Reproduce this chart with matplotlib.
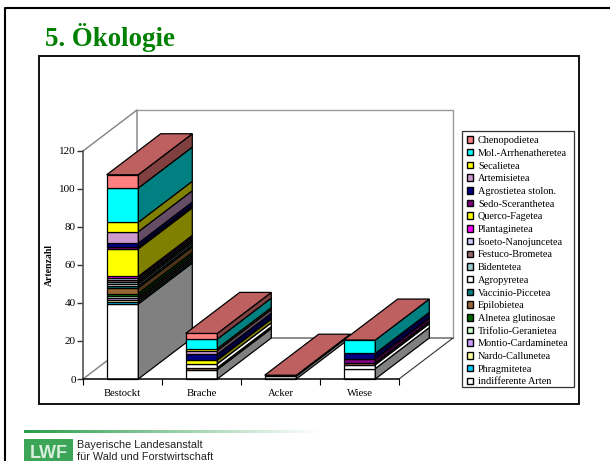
import numpy as np
import matplotlib
matplotlib.use("Agg")
import matplotlib.pyplot as plt
from matplotlib.patches import Patch, Rectangle

plt.rcParams['font.family'] = ['Liberation Serif', 'DejaVu Serif']

categories = ["Bestockt", "Brache", "Acker", "Wiese"]

# bottom to top, same order as the stack
series_names = ["indifferente Arten", "Phragmitetea", "Nardo-Callunetea", "Montio-Cardaminetea",
                "Trifolio-Geranietea", "Alnetea glutinosae", "Epilobietea", "Vaccinio-Piccetea",
                "Agropyretea", "Bidentetea", "Festuco-Brometea", "Isoeto-Nanojuncetea",
                "Plantaginetea", "Querco-Fagetea", "Sedo-Sceranthetea", "Agrostietea stolon.",
                "Artemisietea", "Secalietea", "Mol.-Arrhenatheretea", "Chenopodietea"]
bestockt = [39.5, 1, 1, 1, 1, 1.5, 3, 1, 1, 1, 1, 1, 1, 14.5, 1, 2, 6, 5, 18, 7]
brache = [5, 0, 0, 0, 0, 0, 1, 0, 2, 0, 0, 0, 0, 2, 0, 3, 2, 1, 5, 3]
acker = [1.5, 0, 0, 0, 0, 0, 0, 0, 0, 0, 0, 0, 0, 0, 0, 0.5, 0, 0, 0, 0]
wiese = [5.5, 0, 0, 0, 0, 0, 0, 0, 2, 0, 1, 0, 0, 0, 2, 3, 0, 0, 7, 0]
colors = ["#FFFFFF", "#00CCFF", "#FFFF99", "#CC99FF", "#CCFFCC", "#006600", "#996633", "#008080",
          "#FFFFFF", "#99CCCC", "#996666", "#CCCCFF", "#FF00FF", "#FFFF00", "#800080", "#000080",
          "#CC99CC", "#FFFF00", "#00FFFF", "#FF8080"]
yticks = [0, 20, 40, 60, 80, 100, 120]

W, H = 610, 461
fig = plt.figure(figsize=(W / 100, H / 100), dpi=100)

# page furniture in pixel coordinates
bg = fig.add_axes([0, 0, 1, 1])
bg.set_xlim(0, W)
bg.set_ylim(H, 0)
bg.axis("off")
bg.plot([4.5, 4.5, W], [H, 8.5, 8.5], color="black", lw=1.5)
bg.add_patch(Rectangle((39, 56.5), 540, 347, fc="white", ec="#111111", lw=1.4))
bg.add_patch(Rectangle((462, 131), 112, 256, fc="white", ec="#333333", lw=0.9, zorder=5))
bg.text(45, 46, "5. Ökologie", color="#008000", fontsize=19.4, fontweight="bold")
grad = np.linspace(0, 1, 256).reshape(1, -1)
start = np.array([0.16, 0.62, 0.29])
img = start + (1 - start) * grad[..., None]
bg.imshow(img, extent=(24, 320, 433, 430), aspect="auto")
bg.set_xlim(0, W)
bg.set_ylim(H, 0)
bg.add_patch(Rectangle((24, 439), 49, 22, fc="#3DA558", ec="none"))
bg.text(48.5, 457.5, "LWF", color="#D8EEDC", fontsize=13, fontweight="bold", ha="center",
        family="Liberation Sans")
bg.text(77, 448, "Bayerische Landesanstalt", fontsize=7.85, family="Liberation Sans", color="#222222")
bg.text(77, 460, "für Wald und Forstwirtschaft", fontsize=7.85, family="Liberation Sans", color="#222222")

ax = fig.add_axes([83 / W, (H - 379) / H, 316 / W, 228 / H])
ax.patch.set_alpha(0)
ax.set_xlim(0, 4)
ax.set_ylim(0, 120)

depth_x = 54 / 79
depth_y = 41 / 1.9
bar_w = 0.4

# walls and floor
ax.plot([0, depth_x, depth_x], [120, 120 + depth_y, depth_y], color="#808080", lw=1, clip_on=False, zorder=0)
ax.plot([0, depth_x], [0, depth_y], color="#808080", lw=1, clip_on=False, zorder=0)
ax.plot([depth_x, 4 + depth_x, 4 + depth_x], [120 + depth_y, 120 + depth_y, depth_y],
        color="#999999", lw=1, clip_on=False, zorder=0)
ax.plot([depth_x, 4 + depth_x, 4], [depth_y, depth_y, 0], color="#333333", lw=0.8, clip_on=False, zorder=0)

for i, vals in enumerate([bestockt, brache, acker, wiese]):
    xl = i + 0.5 - bar_w / 2
    xr = xl + bar_w
    bottom = 0
    for v, c, name in zip(vals, colors, series_names):
        if v == 0:
            continue
        ax.bar(i + 0.5, v, bar_w, bottom=bottom, color=c, edgecolor="black", lw=0.9, clip_on=False)
        if name == "Agropyretea":
            side = "#FFFFFF"
        else:
            side = tuple(0.5 * np.array(matplotlib.colors.to_rgb(c)))
        ax.fill([xr, xr + depth_x, xr + depth_x, xr],
                [bottom, bottom + depth_y, bottom + v + depth_y, bottom + v],
                fc=side, ec="black", lw=0.9, clip_on=False)
        bottom += v
    ax.fill([xl, xr, xr + depth_x, xl + depth_x],
            [bottom, bottom, bottom + depth_y, bottom + depth_y],
            fc="#BF6060", ec="black", lw=0.9, clip_on=False)

for s in ["top", "right"]:
    ax.spines[s].set_visible(False)
ax.spines["left"].set_color("#555555")
ax.spines["left"].set_linewidth(1.2)
ax.spines["bottom"].set_linewidth(1.1)

ax.set_yticks(yticks)
ax.tick_params(axis="y", length=4, width=1, labelsize=8, pad=1, color="#333333")
ax.set_xticks(range(5))
ax.set_xticks(np.arange(4) + 0.5, categories, minor=True)
ax.tick_params(axis="x", which="major", length=4, width=0.8, labelbottom=False)
ax.tick_params(axis="x", which="minor", length=0, labelsize=7.7, pad=7)
ax.set_ylabel("Artenzahl", fontsize=7, fontweight="bold", labelpad=4)

handles = [Patch(fc=c, ec="black", lw=1, label=n) for c, n in zip(colors, series_names)][::-1]
leg = ax.legend(handles=handles, loc="upper left", bbox_to_anchor=(462 / W, 1 - 131 / H),
                bbox_transform=fig.transFigure, fontsize=7.4, handlelength=0.6, handleheight=0.6,
                handletextpad=0.45, labelspacing=0.36, borderpad=0.5, borderaxespad=0,
                frameon=False)

fig.savefig("out.png", dpi=100)
